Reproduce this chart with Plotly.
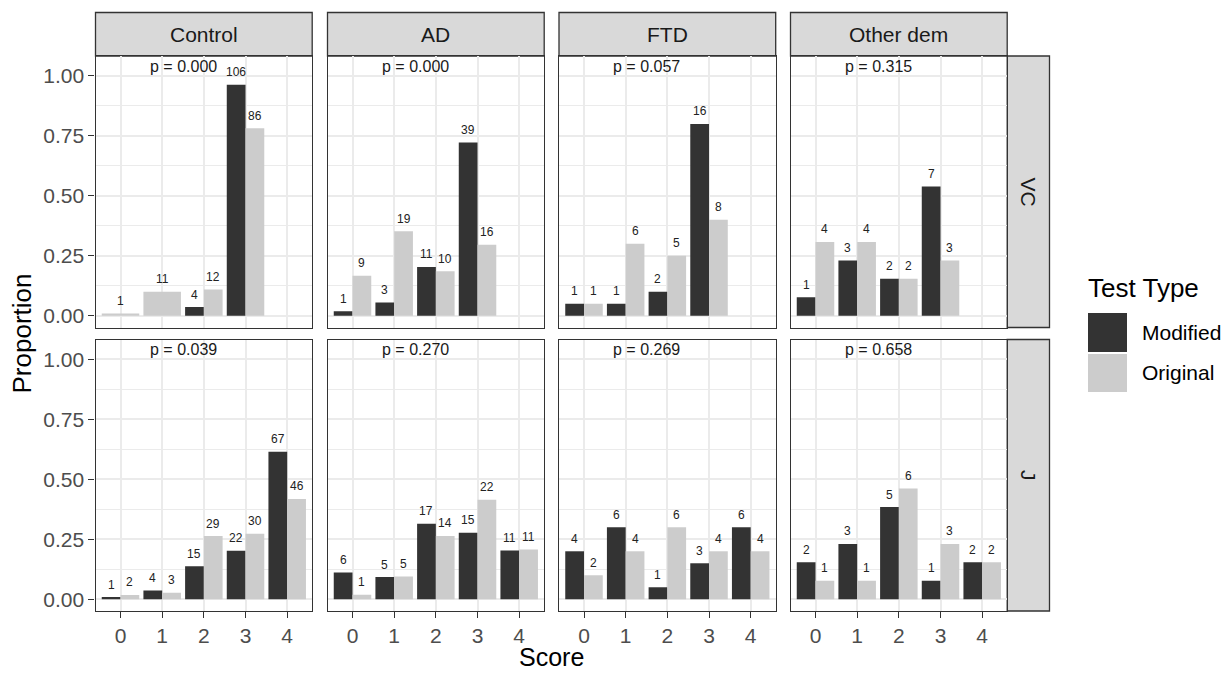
import plotly.graph_objects as go

# ---------------- data ----------------
scores = [0, 1, 2, 3, 4]
groups = ["Control", "AD", "FTD", "Other dem"]
tests = ["VC", "J"]
series_names = ["Modified", "Original"]

vc_modified = {"Control": [None, None, 4, 106, None],
               "AD": [1, 3, 11, 39, None],
               "FTD": [1, 1, 2, 16, None],
               "Other dem": [1, 3, 2, 7, None]}
vc_original = {"Control": [1, 11, 12, 86, None],
               "AD": [9, 19, 10, 16, None],
               "FTD": [1, 6, 5, 8, None],
               "Other dem": [4, 4, 2, 3, None]}
j_modified = {"Control": [1, 4, 15, 22, 67],
              "AD": [6, 5, 17, 15, 11],
              "FTD": [4, 6, 1, 3, 6],
              "Other dem": [2, 3, 5, 1, 2]}
j_original = {"Control": [2, 3, 29, 30, 46],
              "AD": [1, 5, 14, 22, 11],
              "FTD": [2, 4, 6, 4, 4],
              "Other dem": [1, 1, 6, 3, 2]}
p_vc = ["0.000", "0.000", "0.057", "0.315"]
p_j = ["0.039", "0.270", "0.269", "0.658"]

y_ticks = [0.0, 0.25, 0.5, 0.75, 1.0]
y_tick_text = ["0.00", "0.25", "0.50", "0.75", "1.00"]

# ---------------- style ----------------
W, H = 1228, 674
FONT = "Liberation Sans, Arial, sans-serif"
colors = {"Modified": "#333333", "Original": "#CCCCCC"}
col_x0 = [95.5, 327.5, 559.0, 790.5]
col_w = 216.7
row_y = [(56.0, 327.5), (339.5, 611.0)]
strip_top = 12.5
strip_right = (1007.2, 1049.5)
x_range = [-0.6, 4.6]
y_range = [-0.049, 1.083]
TICK_SIZE = 21
STRIP_SIZE = 21
TITLE_SIZE = 26


def px(xp):
    return xp / W


def py(yp):
    return 1 - yp / H


fig = go.Figure()
layout = dict(width=W, height=H, margin=dict(l=0, r=0, t=0, b=0, pad=0),
              template="none", paper_bgcolor="white", plot_bgcolor="white",
              barmode="overlay", showlegend=False,
              font=dict(family=FONT, color="#1A1A1A"))
shapes, annotations = [], []

data_by_test = {"VC": (vc_modified, vc_original), "J": (j_modified, j_original)}
p_by_test = {"VC": p_vc, "J": p_j}

idx = 0
for r, test in enumerate(tests):
    mod, orig = data_by_test[test]
    for c, g in enumerate(groups):
        idx += 1
        xa = "xaxis" if idx == 1 else f"xaxis{idx}"
        ya = "yaxis" if idx == 1 else f"yaxis{idx}"
        xr = "x" if idx == 1 else f"x{idx}"
        yr = "y" if idx == 1 else f"y{idx}"
        x0 = col_x0[c]
        x1 = x0 + col_w
        y0, y1 = row_y[r]
        counts = {"Modified": mod[g], "Original": orig[g]}
        totals = {k: sum(v for v in counts[k] if v is not None) for k in counts}
        for s in series_names:
            xs, ys, offs, wids = [], [], [], []
            other = "Original" if s == "Modified" else "Modified"
            for i, sc in enumerate(scores):
                v = counts[s][i]
                if v is None:
                    continue
                prop = v / totals[s]
                if counts[other][i] is None:
                    off, wd = -0.45, 0.9
                else:
                    off, wd = (-0.45, 0.45) if s == "Modified" else (0.0, 0.45)
                xs.append(sc); ys.append(prop); offs.append(off); wids.append(wd)
                annotations.append(dict(x=sc + off + wd / 2, y=prop, xref=xr, yref=yr,
                                        text=str(v), showarrow=False, yanchor="middle",
                                        yshift=12.5, font=dict(size=12, color="#222222",
                                                               family=FONT)))
            fig.add_trace(go.Bar(x=xs, y=ys, offset=offs, width=wids, name=s,
                                 marker=dict(color=colors[s], line=dict(width=0)),
                                 xaxis=xr, yaxis=yr, hoverinfo="x+y"))
        # p-value
        annotations.append(dict(x=1.5, y=1.04, xref=xr, yref=yr,
                                text=f"p = {p_by_test[test][c]}", showarrow=False,
                                yanchor="middle", font=dict(size=16, color="#1A1A1A",
                                                            family=FONT)))
        layout[xa] = dict(domain=[px(x0), px(x1)], range=x_range, anchor=yr,
                          tickmode="array", tickvals=scores,
                          ticktext=[str(s) for s in scores],
                          showticklabels=(r == 1), ticks="outside" if r == 1 else "",
                          ticklen=6, tickwidth=1.3, tickcolor="#333333",
                          tickfont=dict(size=TICK_SIZE, color="#4D4D4D", family=FONT),
                          showgrid=True, gridcolor="#EBEBEB", gridwidth=2,
                          zeroline=False, showline=True, mirror=True,
                          linecolor="#333333", linewidth=1.3, automargin=False,
                          fixedrange=True)
        layout[ya] = dict(domain=[py(y1), py(y0)], range=y_range, anchor=xr,
                          tickmode="array", tickvals=y_ticks, ticktext=y_tick_text,
                          showticklabels=(c == 0), ticks="outside" if c == 0 else "",
                          ticklen=6, tickwidth=1.3, tickcolor="#333333",
                          tickfont=dict(size=TICK_SIZE, color="#4D4D4D", family=FONT),
                          showgrid=True, gridcolor="#EBEBEB", gridwidth=2,
                          minor=dict(tickmode="array", tickvals=[0.125, 0.375, 0.625, 0.875],
                                     showgrid=True, gridcolor="#EBEBEB", gridwidth=1,
                                     ticks=""),
                          zeroline=False, showline=True, mirror=True,
                          linecolor="#333333", linewidth=1.3, automargin=False,
                          fixedrange=True)

# top strips
for c, g in enumerate(groups):
    x0 = col_x0[c]
    x1 = x0 + col_w
    shapes.append(dict(type="rect", xref="paper", yref="paper",
                       x0=px(x0), x1=px(x1), y0=py(row_y[0][0]), y1=py(strip_top),
                       fillcolor="#D9D9D9", line=dict(color="#333333", width=1.3),
                       layer="below"))
    annotations.append(dict(x=px((x0 + x1) / 2), y=py((strip_top + row_y[0][0]) / 2),
                            xref="paper", yref="paper", text=g, showarrow=False,
                            xanchor="center", yanchor="middle",
                            font=dict(size=STRIP_SIZE, color="#1A1A1A", family=FONT)))
# right strips
for r, test in enumerate(tests):
    y0, y1 = row_y[r]
    shapes.append(dict(type="rect", xref="paper", yref="paper",
                       x0=px(strip_right[0]), x1=px(strip_right[1]),
                       y0=py(y1), y1=py(y0),
                       fillcolor="#D9D9D9", line=dict(color="#333333", width=1.3),
                       layer="below"))
    annotations.append(dict(x=px(sum(strip_right) / 2), y=py((y0 + y1) / 2),
                            xref="paper", yref="paper", text=test, showarrow=False,
                            textangle=90, xanchor="center", yanchor="middle",
                            font=dict(size=STRIP_SIZE, color="#1A1A1A", family=FONT)))

# axis titles
annotations.append(dict(x=px(21), y=py((row_y[0][0] + row_y[1][1]) / 2),
                        xref="paper", yref="paper", text="Proportion", showarrow=False,
                        textangle=-90, xanchor="center", yanchor="middle",
                        font=dict(size=TITLE_SIZE, color="#000000", family=FONT)))
annotations.append(dict(x=px((col_x0[0] + col_x0[3] + col_w) / 2), y=py(657),
                        xref="paper", yref="paper", text="Score", showarrow=False,
                        xanchor="center", yanchor="middle", borderpad=0,
                        font=dict(size=25, color="#000000", family=FONT)))

# legend (drawn manually)
annotations.append(dict(x=px(1086), y=py(288), xref="paper", yref="paper",
                        text="Test Type", showarrow=False, xanchor="left",
                        yanchor="middle", font=dict(size=TITLE_SIZE, color="#000000",
                                                    family=FONT)))
key_rows = [(313, 352), (354, 392)]
for (k0, k1), s in zip(key_rows, series_names):
    shapes.append(dict(type="rect", xref="paper", yref="paper",
                       x0=px(1088), x1=px(1127), y0=py(k1), y1=py(k0),
                       fillcolor=colors[s], line=dict(width=0)))
    annotations.append(dict(x=px(1140), y=py((k0 + k1) / 2), xref="paper", yref="paper",
                            text=s, showarrow=False, xanchor="left", yanchor="middle",
                            font=dict(size=21, color="#000000", family=FONT)))

layout["shapes"] = shapes
layout["annotations"] = annotations
fig.update_layout(**layout)
fig.write_html("out.html", config={"displayModeBar": False},
               post_script="document.body.style.margin='0';"
                           "document.body.style.padding='0';"
                           "document.body.style.overflow='hidden';")
